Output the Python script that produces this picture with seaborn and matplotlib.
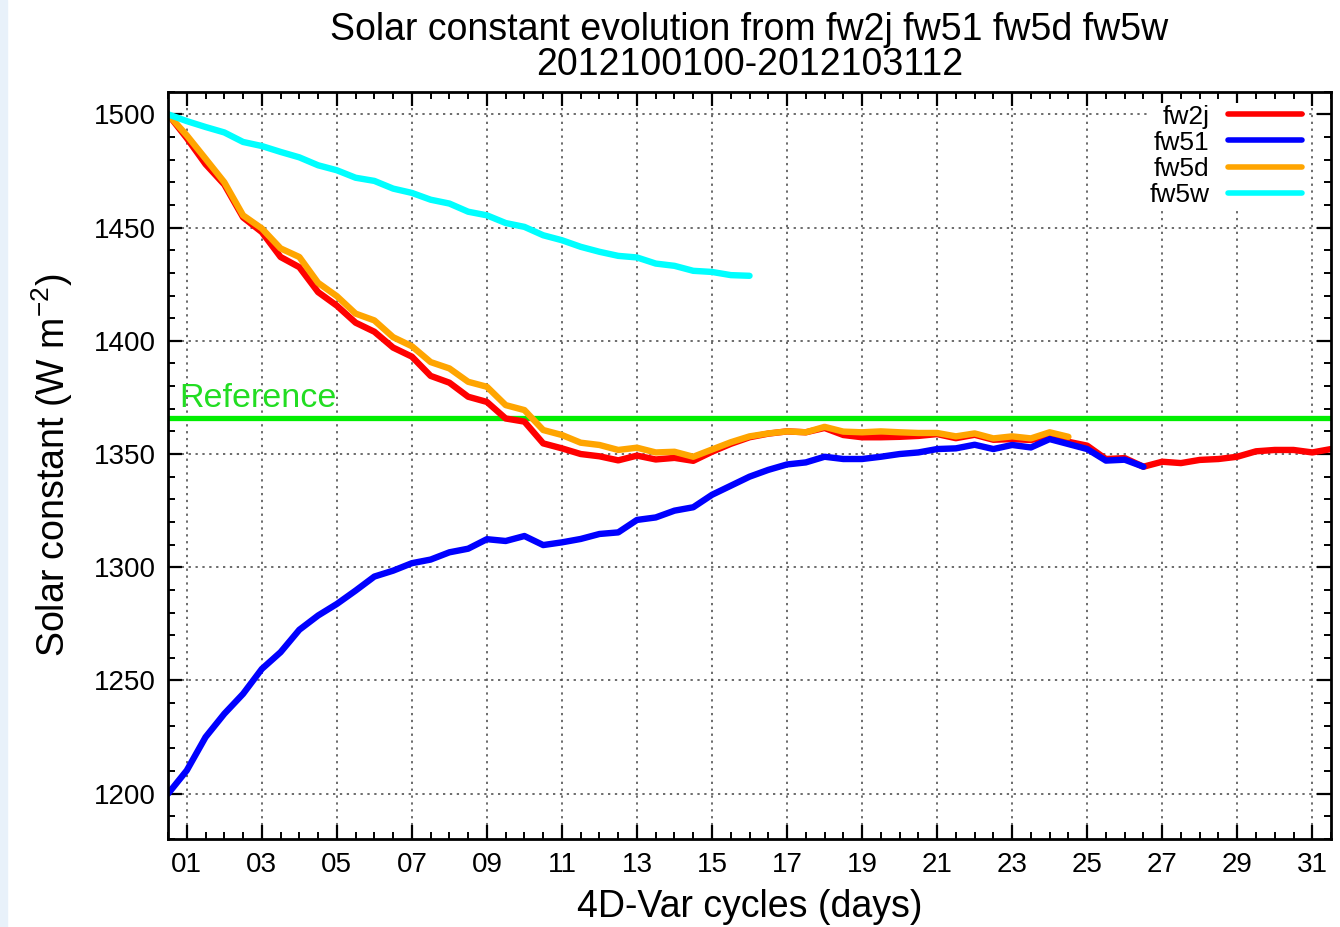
import numpy as np
import pandas as pd
import matplotlib
matplotlib.use("Agg")
import matplotlib.pyplot as plt
import seaborn as sns
from matplotlib.lines import Line2D
from matplotlib.patches import Rectangle
from matplotlib.ticker import MultipleLocator, FuncFormatter

# 12-hourly 4D-Var cycles 2012100100 .. 2012103112, in days
cycles = np.arange(0.5, 31.51, 0.5)

experiments = ["fw2j", "fw51", "fw5d", "fw5w"]
colors = ["#ff0000", "#0000ff", "#ffa500", "#00ffff"]

fw2j = [1500, 1489.5, 1478, 1469, 1454.5, 1448, 1437, 1432.5, 1421.5, 1415.5,
        1408, 1404, 1397, 1393, 1384.5, 1381.5, 1375.3, 1373, 1365.7, 1364.3,
        1354.7, 1352.5, 1350, 1349, 1347.2, 1349.3, 1347.6, 1348.3, 1347, 1351,
        1354.5, 1357.4, 1359, 1360, 1359.6, 1361.5, 1358.4, 1357.4, 1357.4, 1357.6,
        1358, 1358.8, 1357, 1358.5, 1356.3, 1356.6, 1356.2, 1358, 1355.4, 1353.7,
        1347.8, 1348.2, 1344.4, 1346.6, 1346, 1347.4, 1347.8, 1348.8, 1351.2, 1351.8,
        1351.8, 1350.7, 1352.2]
fw51 = [1200, 1210.3, 1225, 1235.3, 1244.1, 1255.1, 1262.5, 1272.4, 1278.7, 1283.8,
        1289.7, 1295.9, 1298.5, 1301.8, 1303.4, 1306.6, 1308.2, 1312.4, 1311.6, 1313.8,
        1309.8, 1311, 1312.5, 1314.7, 1315.4, 1320.9, 1322, 1325, 1326.5, 1332,
        1336, 1340, 1343, 1345.4, 1346.3, 1348.8, 1347.8, 1347.8, 1348.8, 1350,
        1350.7, 1352.2, 1352.5, 1354.1, 1352.2, 1354, 1352.9, 1356.6, 1354.4, 1352.2,
        1347.1, 1347.5, 1344.4]
fw5d = [1500, 1490.7, 1480.4, 1470, 1455.4, 1449.6, 1440.8, 1437, 1425.6, 1419.7,
        1412, 1409, 1401.6, 1397.6, 1390.6, 1387.8, 1381.9, 1379.7, 1371.6, 1369.4,
        1360.6, 1358.4, 1355, 1354, 1351.8, 1352.8, 1350.7, 1351, 1348.8, 1352,
        1355.2, 1357.8, 1359.1, 1360, 1359.6, 1362, 1359.9, 1359.6, 1360, 1359.6,
        1359.3, 1359.3, 1357.8, 1359.1, 1356.9, 1357.8, 1356.9, 1359.6, 1357.6]
fw5w = [1500, 1497, 1494.4, 1492, 1487.8, 1486, 1483.4, 1481, 1477.5, 1475.3,
        1472, 1470.6, 1467.2, 1465.3, 1462.3, 1460.6, 1457, 1455.4, 1452, 1450.3,
        1446.6, 1444.4, 1441.5, 1439.3, 1437.5, 1436.8, 1434.1, 1433.1, 1430.9, 1430.4,
        1429, 1428.7]
reference = 1366

series = dict(zip(experiments, [fw2j, fw51, fw5d, fw5w]))
df = pd.concat([pd.DataFrame({"cycle": cycles[:len(v)], "value": v, "exp": k})
                for k, v in series.items()], ignore_index=True)

sns.set_style("ticks", {"text.color": "black", "axes.labelcolor": "black",
                        "xtick.color": "black", "ytick.color": "black",
                        "axes.edgecolor": "black"})
plt.rcParams["font.family"] = ["Liberation Sans", "DejaVu Sans"]
plt.rcParams["mathtext.default"] = "regular"

fig = plt.figure(figsize=(13.4, 9.27), dpi=100)
ax = fig.add_axes([0.1254, 0.0949, 0.8679, 0.8062])
fig.patches.append(Rectangle((0, 0), 7 / 1340, 1, transform=fig.transFigure,
                             color="#e8f1fa", zorder=0))

ax.axhline(reference, color="#00ee00", lw=3.8, zorder=1.5)
ax.text(0.8, reference + 1.8, "Reference", color="#22dd22", fontsize=24.5,
        va="bottom", ha="left")

sns.lineplot(data=df, x="cycle", y="value", hue="exp", hue_order=experiments,
             palette=dict(zip(experiments, colors)), linewidth=4.6, sort=False,
             legend=False, ax=ax, zorder=2)

ax.set_xlim(0.5, 31.5)
ax.set_ylim(1180, 1510)
ax.xaxis.set_major_locator(MultipleLocator(2, offset=1))
ax.xaxis.set_minor_locator(MultipleLocator(0.5))
ax.xaxis.set_major_formatter(FuncFormatter(lambda v, p: f"{int(round(v)):02d}"))
ax.yaxis.set_major_locator(MultipleLocator(50))
ax.yaxis.set_minor_locator(MultipleLocator(10))

ax.grid(True, which="major", color="#444444", lw=1.1, linestyle=(0, (1.5, 3)))
ax.tick_params(which="both", direction="in", top=True, right=True, labelsize=20)
ax.tick_params(which="major", length=10, width=1.6)
ax.tick_params(which="minor", length=5, width=1.4)
ax.tick_params(axis="y", pad=9)
ax.tick_params(axis="x", pad=9)
for s in ax.spines.values():
    s.set_linewidth(2)

ax.set_xlabel("4D-Var cycles (days)", fontsize=27, labelpad=8)
ax.set_ylabel("Solar constant (W m$^{-2}$)", fontsize=27, labelpad=13)
ax.set_title("Solar constant evolution from fw2j fw51 fw5d fw5w\n2012100100-2012103112",
             fontsize=27, pad=12, linespacing=0.98)

# gnuplot-style key: label first, opaque background over the grid
handles = [Line2D([], [], color=c, lw=4) for c in colors]
leg = ax.legend(handles, experiments, loc="upper right", frameon=True,
                markerfirst=False, fontsize=19, handlelength=2.8,
                handletextpad=0.7, labelspacing=0.08, borderpad=0.05,
                borderaxespad=0.0, bbox_to_anchor=(0.9758, 0.9845), fancybox=False)
leg.get_frame().set_facecolor("white")
leg.get_frame().set_edgecolor("none")
leg.get_frame().set_alpha(1.0)

fig.savefig("out.png", dpi=100)
